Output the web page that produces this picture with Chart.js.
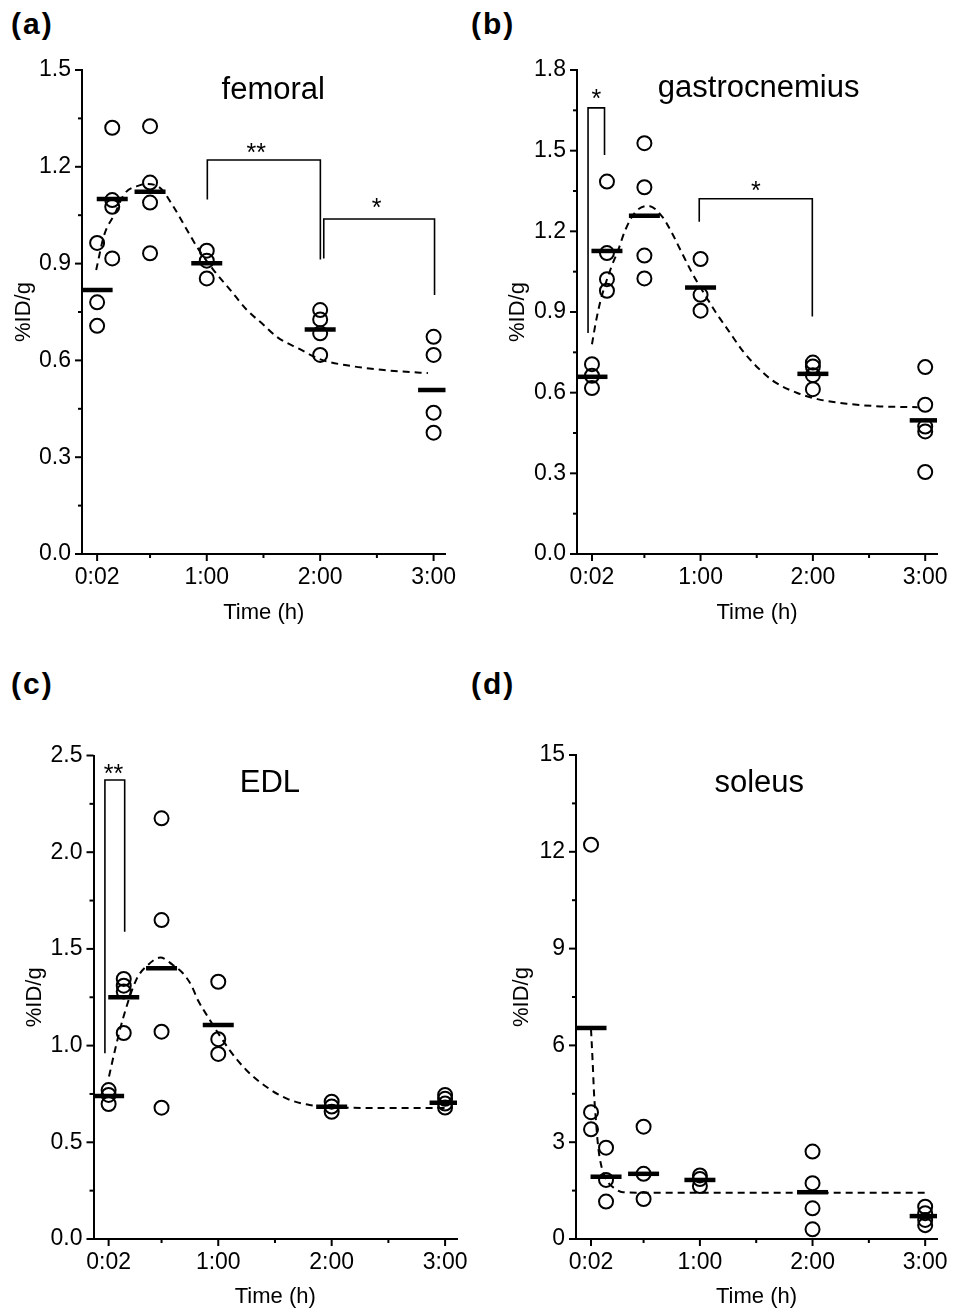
<!DOCTYPE html>
<html>
<head>
<meta charset="utf-8">
<script src="https://cdn.jsdelivr.net/npm/chart.js@4.4.1/dist/chart.umd.min.js"></script>
<style>
html,body{margin:0;padding:0;background:#fff;}
body{width:957px;height:1311px;position:relative;overflow:hidden;font-family:"Liberation Sans",Arial,sans-serif;}
canvas{position:absolute;}
.lbl{position:absolute;font-weight:bold;font-size:30px;line-height:30px;letter-spacing:2px;color:#000;font-family:"Liberation Sans",Arial,sans-serif;}
</style>
</head>
<body>
<div class="lbl" style="left:11px;top:9px">(a)</div>
<div class="lbl" style="left:471px;top:9px">(b)</div>
<div class="lbl" style="left:11px;top:669px">(c)</div>
<div class="lbl" style="left:471px;top:669px">(d)</div>
<canvas id="ca" width="478" height="655" style="left:0px;top:0px;width:478px;height:655px"></canvas>
<canvas id="cb" width="479" height="655" style="left:478px;top:0px;width:479px;height:655px"></canvas>
<canvas id="cc" width="478" height="656" style="left:0px;top:655px;width:478px;height:656px"></canvas>
<canvas id="cd" width="479" height="656" style="left:478px;top:655px;width:479px;height:656px"></canvas>
<script>
// ---------- shared axis data ----------
const timeTicks = [2, 30, 60, 90, 120, 150, 180];
const timeTickLabels = ['0:02', '', '1:00', '', '2:00', '', '3:00'];
const groupTimes = [2, 10, 30, 60, 120, 180];

// ---------- (a) femoral ----------
const femoralPointTimes  = [2, 2, 2, 10, 10, 10, 10, 30, 30, 30, 30, 60, 60, 60, 120, 120, 120, 120, 180, 180, 180, 180];
const femoralPointValues = [0.964, 0.780, 0.707, 1.321, 1.097, 1.076, 0.916, 1.326, 1.151, 1.089, 0.932, 0.940, 0.909, 0.854, 0.756, 0.727, 0.684, 0.617, 0.673, 0.617, 0.438, 0.376];
const femoralMeans = [0.818, 1.100, 1.123, 0.901, 0.696, 0.508];
const femoralFitTimes  = [1.5, 5.7, 11.5, 16.3, 24.8, 28, 35.4, 42.4, 48.6, 54.8, 63.6, 72.5, 81.3, 90.1, 97.1, 109.5, 120.1, 136, 153.7, 173.1, 177];
const femoralFitValues = [0.880, 0.988, 1.056, 1.115, 1.143, 1.147, 1.134, 1.076, 1.014, 0.952, 0.880, 0.818, 0.756, 0.710, 0.673, 0.634, 0.603, 0.583, 0.570, 0.562, 0.561];
const femoralYTicks  = [0, 0.15, 0.3, 0.45, 0.6, 0.75, 0.9, 1.05, 1.2, 1.35, 1.5];
const femoralYLabels = ['0.0', '', '0.3', '', '0.6', '', '0.9', '', '1.2', '', '1.5'];

// ---------- (b) gastrocnemius ----------
const gastroPointTimes  = [2, 2, 2, 10, 10, 10, 10, 30, 30, 30, 30, 60, 60, 60, 120, 120, 120, 120, 180, 180, 180, 180, 180];
const gastroPointValues = [0.706, 0.663, 0.617, 1.385, 1.119, 1.022, 0.979, 1.528, 1.364, 1.110, 1.025, 1.097, 0.964, 0.905, 0.712, 0.697, 0.665, 0.613, 0.695, 0.555, 0.474, 0.456, 0.305];
const gastroMeans = [0.659, 1.127, 1.258, 0.991, 0.670, 0.497];
const gastroFitTimes  = [2, 4, 6.5, 9, 12.5, 16, 19.5, 25, 32, 39.5, 45, 50, 55.5, 64, 68, 75, 82, 91, 99.5, 112, 122.5, 138, 156, 176];
const gastroFitValues = [0.78, 0.86, 0.94, 1.00, 1.07, 1.13, 1.20, 1.27, 1.295, 1.255, 1.19, 1.12, 1.045, 0.945, 0.90, 0.83, 0.76, 0.69, 0.64, 0.598, 0.576, 0.559, 0.549, 0.546];
const gastroYTicks  = [0, 0.15, 0.3, 0.45, 0.6, 0.75, 0.9, 1.05, 1.2, 1.35, 1.5, 1.65, 1.8];
const gastroYLabels = ['0.0', '', '0.3', '', '0.6', '', '0.9', '', '1.2', '', '1.5', '', '1.8'];

// ---------- (c) EDL ----------
const edlPointTimes  = [2, 2, 2, 10, 10, 10, 10, 30, 30, 30, 30, 60, 60, 60, 120, 120, 120, 180, 180, 180, 180];
const edlPointValues = [0.770, 0.745, 0.698, 1.345, 1.310, 1.280, 1.065, 2.175, 1.649, 1.072, 0.679, 1.330, 1.033, 0.957, 0.710, 0.685, 0.658, 0.745, 0.725, 0.700, 0.680];
const edlMeans = [0.739, 1.250, 1.400, 1.107, 0.684, 0.705];
const edlFitTimes  = [2.2, 5.2, 9.6, 16.6, 22.8, 29.3, 36, 41.3, 45.7, 49.2, 54.5, 66, 74.8, 85.4, 96, 108.3, 127.7, 155.8, 180];
const edlFitValues = [0.84, 0.97, 1.14, 1.34, 1.417, 1.455, 1.417, 1.374, 1.313, 1.236, 1.149, 0.977, 0.874, 0.787, 0.727, 0.693, 0.679, 0.677, 0.677];
const edlYTicks  = [0, 0.25, 0.5, 0.75, 1.0, 1.25, 1.5, 1.75, 2.0, 2.25, 2.5];
const edlYLabels = ['0.0', '', '0.5', '', '1.0', '', '1.5', '', '2.0', '', '2.5'];

// ---------- (d) soleus ----------
const soleusPointTimes  = [2, 2, 2, 10, 10, 10, 30, 30, 30, 60, 60, 60, 120, 120, 120, 120, 180, 180, 180, 180];
const soleusPointValues = [12.22, 3.93, 3.40, 2.83, 1.83, 1.16, 3.48, 2.02, 1.24, 1.97, 1.86, 1.64, 2.71, 1.73, 0.95, 0.30, 1.00, 0.80, 0.59, 0.43];
const soleusMeans = [6.54, 1.93, 2.02, 1.83, 1.45, 0.71];
const soleusFitTimes  = [2, 2.9, 3.6, 4.6, 5.8, 7.6, 10.2, 14.6, 19, 40, 90, 140, 180];
const soleusFitValues = [6.50, 5.45, 4.52, 3.69, 2.86, 2.24, 1.83, 1.57, 1.45, 1.43, 1.43, 1.43, 1.43];
const soleusYTicks  = [0, 1.5, 3, 4.5, 6, 7.5, 9, 10.5, 12, 13.5, 15];
const soleusYLabels = ['0', '', '3', '', '6', '', '9', '', '12', '', '15'];

// ---------- significance brackets (data coordinates) ----------
const femoralBrackets = [
  {x1: 60.3, x2: 120.1, top: 1.221, y1: 1.099, y2: 0.913, text: '**', sx: 86.2, sy: 1.262},
  {x1: 121.9, x2: 180.5, top: 1.038, y1: 0.916, y2: 0.803, text: '*', sx: 149.8, sy: 1.091}
];
const gastroBrackets = [
  {x1: -0.1, x2: 8.7, top: 1.659, y1: 0.822, y2: 1.484, text: '*', sx: 4.3, sy: 1.717},
  {x1: 59.3, x2: 119.7, top: 1.321, y1: 1.236, y2: 0.883, text: '*', sx: 89.6, sy: 1.373}
];
const edlBrackets = [
  {x1: 0.04, x2: 10.5, top: 2.373, y1: 0.960, y2: 1.589, text: '**', sx: 4.6, sy: 2.436}
];

const FONT = '"Liberation Sans", Arial, Helvetica, sans-serif';

const decorPlugin = {
  id: 'panelDecor',
  afterDraw(chart, args, opts) {
    const ctx = chart.ctx;
    const xs = chart.scales.x, ys = chart.scales.y;
    const area = chart.chartArea;
    ctx.save();
    ctx.strokeStyle = '#000';
    ctx.fillStyle = '#000';
    ctx.lineWidth = 2;
    ctx.lineCap = 'butt';
    xs.ticks.forEach(t => {
      const px = xs.getPixelForValue(t.value);
      const len = t.label ? 7 : 4;
      ctx.beginPath(); ctx.moveTo(px, area.bottom); ctx.lineTo(px, area.bottom + len); ctx.stroke();
    });
    ys.ticks.forEach(t => {
      const py = ys.getPixelForValue(t.value);
      const len = t.label ? 7 : 4;
      ctx.beginPath(); ctx.moveTo(area.left, py); ctx.lineTo(area.left - len, py); ctx.stroke();
    });
    // brackets
    ctx.lineWidth = 1.6;
    (opts.brackets || []).forEach(b => {
      const X1 = xs.getPixelForValue(b.x1), X2 = xs.getPixelForValue(b.x2);
      const T = ys.getPixelForValue(b.top);
      ctx.beginPath();
      ctx.moveTo(X1, ys.getPixelForValue(b.y1));
      ctx.lineTo(X1, T);
      ctx.lineTo(X2, T);
      ctx.lineTo(X2, ys.getPixelForValue(b.y2));
      ctx.stroke();
      ctx.font = '25px ' + FONT;
      ctx.textAlign = 'center';
      ctx.textBaseline = 'alphabetic';
      ctx.fillText(b.text, xs.getPixelForValue(b.sx), ys.getPixelForValue(b.sy) + 0.57 * 25);
    });
    // in-plot title
    if (opts.title) {
      ctx.font = '31px ' + FONT;
      ctx.textAlign = 'center';
      ctx.textBaseline = 'alphabetic';
      ctx.fillText(opts.title.text, xs.getPixelForValue(opts.title.x), ys.getPixelForValue(opts.title.y));
    }
    ctx.restore();
  }
};

function pairs(xsArr, ysArr) { return xsArr.map((x, i) => ({x: x, y: ysArr[i]})); }

function makeChart(id, p) {
  const ctx = document.getElementById(id);
  return new Chart(ctx, {
    type: 'scatter',
    data: {
      datasets: [
        { // mean bars
          data: pairs(groupTimes, p.means),
          pointStyle: 'line', pointRadius: 15.5, pointHoverRadius: 15.5,
          borderColor: '#000', borderWidth: 4.5, backgroundColor: '#000'
        },
        { // individual animals
          data: pairs(p.pointTimes, p.pointValues),
          pointStyle: 'circle', pointRadius: 7, pointHoverRadius: 7,
          borderColor: '#000', borderWidth: 2, backgroundColor: 'rgba(0,0,0,0)'
        },
        { // fitted curve
          type: 'line',
          data: pairs(p.fitTimes, p.fitValues),
          showLine: true, pointRadius: 0, borderColor: '#000', borderWidth: 2,
          borderDash: [7, 5], cubicInterpolationMode: 'monotone', fill: false
        }
      ]
    },
    options: {
      responsive: false, maintainAspectRatio: false, animation: false,
      devicePixelRatio: 1, events: [],
      layout: { padding: { left: 0, top: p.padT, right: p.padR, bottom: 0 } },
      plugins: {
        legend: { display: false }, tooltip: { enabled: false },
        panelDecor: { brackets: p.brackets, title: p.title }
      },
      scales: {
        x: {
          type: 'linear', min: -6, max: 186.3,
          afterBuildTicks: s => { s.ticks = timeTicks.map(v => ({value: v})); },
          ticks: {
            autoSkip: false, maxRotation: 0, minRotation: 0, padding: 10, color: '#000',
            font: { family: FONT, size: 23 },
            callback: (v, i) => timeTickLabels[i]
          },
          grid: { display: false, drawTicks: false },
          border: { display: true, color: '#000', width: 2 },
          title: { display: true, text: 'Time (h)', color: '#000', font: { family: FONT, size: 22 }, padding: { top: 0, bottom: p.xTitlePad } },
          afterFit: s => { s.height = p.xH; s.paddingLeft = 0; s.paddingRight = 0; }
        },
        y: {
          type: 'linear', min: 0, max: p.yTicks[p.yTicks.length - 1],
          afterBuildTicks: s => { s.ticks = p.yTicks.map(v => ({value: v})); },
          ticks: {
            autoSkip: false, padding: 11, color: '#000',
            font: { family: FONT, size: 23 },
            callback: (v, i) => p.yLabels[i]
          },
          grid: { display: false, drawTicks: false },
          border: { display: true, color: '#000', width: 2 },
          title: { display: true, text: '%ID/g', color: '#000', font: { family: FONT, size: 22 }, padding: { top: p.yTitlePad, bottom: 0 } },
          afterFit: s => { s.width = p.yW; s.paddingTop = 0; s.paddingBottom = 0; }
        }
      }
    },
    plugins: [decorPlugin]
  });
}

makeChart('ca', {
  pointTimes: femoralPointTimes, pointValues: femoralPointValues, means: femoralMeans,
  fitTimes: femoralFitTimes, fitValues: femoralFitValues,
  yTicks: femoralYTicks, yLabels: femoralYLabels, brackets: femoralBrackets,
  title: {text: 'femoral', x: 95.2, y: 1.409},
  padT: 70, padR: 32.5, yW: 82, xH: 101, xTitlePad: 28.8, yTitlePad: 10.3
});
makeChart('cb', {
  pointTimes: gastroPointTimes, pointValues: gastroPointValues, means: gastroMeans,
  fitTimes: gastroFitTimes, fitValues: gastroFitValues,
  yTicks: gastroYTicks, yLabels: gastroYLabels, brackets: gastroBrackets,
  title: {text: 'gastrocnemius', x: 91.0, y: 1.701},
  padT: 70, padR: 17, yW: 99, xH: 101, xTitlePad: 28.8, yTitlePad: 26.8
});
makeChart('cc', {
  pointTimes: edlPointTimes, pointValues: edlPointValues, means: edlMeans,
  fitTimes: edlFitTimes, fitValues: edlFitValues,
  yTicks: edlYTicks, yLabels: edlYLabels, brackets: edlBrackets,
  title: {text: 'EDL', x: 87.3, y: 2.313},
  padT: 100.5, padR: 21, yW: 93.5, xH: 72, xTitlePad: 0.5, yTitlePad: 21.8
});
makeChart('cd', {
  pointTimes: soleusPointTimes, pointValues: soleusPointValues, means: soleusMeans,
  fitTimes: soleusFitTimes, fitValues: soleusFitValues,
  yTicks: soleusYTicks, yLabels: soleusYLabels, brackets: [],
  title: {text: 'soleus', x: 91.6, y: 13.86},
  padT: 100, padR: 17, yW: 98, xH: 72, xTitlePad: 0.5, yTitlePad: 31.1
});
</script>
</body>
</html>
